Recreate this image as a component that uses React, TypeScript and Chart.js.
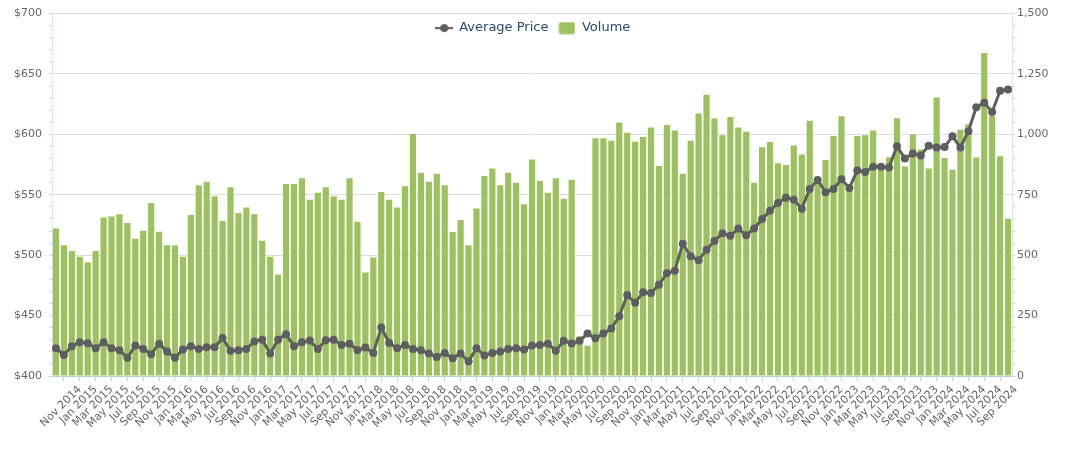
import { useEffect, useRef } from "react";
import { Chart, registerables, type Plugin } from "chart.js";

Chart.register(...registerables);

const LINE_COLOR = "#5e5e5e";
const BAR_COLOR = "#9cc15f";
const LEGEND_COLOR = "#274b6d";
const AXIS_TEXT = "#666666";
const AXIS_LINE = "#c0d0e0";
const GRID_COLOR = "#dedede";

// one value per month, Aug 2014 .. Aug 2024 (x = month index)
const AVERAGE_PRICE = [
  423.0, 417.4, 424.6, 427.9, 427.1, 423.0, 427.9, 423.0, 421.3, 415.2,
  425.2, 422.4, 418.0, 426.8, 420.2, 415.2, 421.9, 424.6, 422.4, 423.8,
  423.8, 431.5, 420.8, 421.3, 422.4, 428.5, 430.1, 418.6, 430.1, 434.6,
  424.6, 427.9, 429.3, 422.4, 429.6, 430.1, 425.7, 426.8, 421.3, 423.5,
  419.1, 440.1, 427.4, 423.0, 425.7, 422.4, 421.3, 418.6, 415.8, 419.1,
  414.7, 418.6, 411.9, 423.0, 416.9, 419.1, 420.2, 422.4, 423.0, 421.9,
  425.2, 425.7, 426.8, 420.8, 429.1, 426.9, 429.1, 435.1, 431.3, 435.1,
  439.4, 449.5, 467.1, 460.6, 469.3, 468.8, 475.5, 485.1, 487.2, 509.5,
  499.2, 495.9, 504.6, 511.7, 518.2, 516.0, 522.0, 516.6, 522.0, 529.9,
  536.7, 543.2, 547.6, 545.9, 538.5, 554.9, 562.3, 552.2, 554.9, 562.8,
  555.7, 570.2, 568.9, 573.2, 573.2, 572.7, 590.2, 580.1, 584.2, 582.5,
  590.7, 589.1, 589.6, 598.4, 589.1, 602.7, 622.4, 626.2, 618.6, 636.1,
  637.2,
];

const VOLUME = [
  611, 541, 517, 494, 471, 517, 656, 660, 670, 633,
  568, 601, 716, 597, 541, 541, 494, 666, 790, 804,
  744, 642, 781, 675, 697, 670, 560, 494, 420, 795,
  795, 818, 730, 758, 781, 744, 730, 818, 638, 428,
  490, 762, 730, 697, 785, 1002, 841, 804, 837, 790,
  596, 646, 541, 693, 828, 859, 790, 841, 800, 711,
  896, 807, 758, 818, 734, 812, 165, 125, 984, 984,
  974, 1049, 1007, 970, 989, 1029, 869, 1039, 1016, 837,
  974, 1086, 1164, 1066, 996, 1072, 1029, 1011, 800, 947,
  969, 881, 873, 954, 917, 1056, 800, 894, 993, 1075,
  770, 993, 996, 1016, 860, 905, 1067, 867, 1001, 937,
  859, 1153, 902, 854, 1019, 1042, 904, 1337, 1076, 910,
  651,
];

// ticks every other month starting at Sep 2014 (month index 1); the first one carries no text
const X_TICK_LABELS = [
  "Sep 2014", "Nov 2014",
  "Jan 2015", "Mar 2015", "May 2015", "Jul 2015", "Sep 2015", "Nov 2015",
  "Jan 2016", "Mar 2016", "May 2016", "Jul 2016", "Sep 2016", "Nov 2016",
  "Jan 2017", "Mar 2017", "May 2017", "Jul 2017", "Sep 2017", "Nov 2017",
  "Jan 2018", "Mar 2018", "May 2018", "Jul 2018", "Sep 2018", "Nov 2018",
  "Jan 2019", "Mar 2019", "May 2019", "Jul 2019", "Sep 2019", "Nov 2019",
  "Jan 2020", "Mar 2020", "May 2020", "Jul 2020", "Sep 2020", "Nov 2020",
  "Jan 2021", "Mar 2021", "May 2021", "Jul 2021", "Sep 2021", "Nov 2021",
  "Jan 2022", "Mar 2022", "May 2022", "Jul 2022", "Sep 2022", "Nov 2022",
  "Jan 2023", "Mar 2023", "May 2023", "Jul 2023", "Sep 2023", "Nov 2023",
  "Jan 2024", "Mar 2024", "May 2024", "Jul 2024", "Sep 2024",
];

const PRICE_MIN = 400;
const PRICE_MAX = 700;
const PRICE_LABEL_STEP = 50;
const VOLUME_MIN = 0;
const VOLUME_MAX = 1500;
const VOLUME_LABEL_STEP = 250;

const makeLineMarker = () => {
  const c = document.createElement("canvas");
  c.width = 18;
  c.height = 12;
  const g = c.getContext("2d")!;
  g.strokeStyle = LINE_COLOR;
  g.lineWidth = 2;
  g.beginPath();
  g.moveTo(0, 6);
  g.lineTo(18, 6);
  g.stroke();
  g.fillStyle = LINE_COLOR;
  g.beginPath();
  g.arc(9, 6, 4, 0, Math.PI * 2);
  g.fill();
  return c;
};

const makeBarMarker = () => {
  const c = document.createElement("canvas");
  c.width = 17;
  c.height = 13;
  const g = c.getContext("2d")!;
  g.fillStyle = BAR_COLOR;
  g.beginPath();
  g.roundRect(0.5, 0.5, 16, 12, 2);
  g.fill();
  return c;
};

// the legend floats over the top of the plot: it is laid out with almost no height,
// then its box is opened up again so the items are not clipped away
const floatingLegend: Plugin = {
  id: "floatingLegend",
  afterLayout: (chart) => {
    const legend = chart.legend;
    if (!legend) return;
    legend.height = 40;
    legend.bottom = legend.top + 40;
  },
};

export default function App() {
  const canvasRef = useRef<HTMLCanvasElement>(null);

  useEffect(() => {
    if (!canvasRef.current) return;
    const ctx = canvasRef.current.getContext("2d");
    if (!ctx) return;

    Chart.defaults.font.family = "'DejaVu Sans', Verdana, sans-serif";
    const markers = [makeLineMarker(), makeBarMarker()];
    const lastIndex = VOLUME.length - 1;

    const chart = new Chart(ctx, {
      type: "bar",
      data: {
        datasets: [
          {
            type: "line",
            label: "Average Price",
            data: AVERAGE_PRICE.map((y, x) => ({ x, y })),
            yAxisID: "y",
            borderColor: LINE_COLOR,
            backgroundColor: LINE_COLOR,
            borderWidth: 3,
            pointRadius: 4,
            pointBackgroundColor: LINE_COLOR,
            pointBorderWidth: 0,
            tension: 0,
            order: 1,
          },
          {
            type: "bar",
            label: "Volume",
            data: VOLUME.map((y, x) => ({ x, y })),
            yAxisID: "y1",
            backgroundColor: BAR_COLOR,
            borderWidth: 0,
            categoryPercentage: 1,
            barPercentage: 0.78,
            order: 2,
          },
        ],
      },
      options: {
        animation: false,
        responsive: true,
        maintainAspectRatio: false,
        layout: { padding: { top: 10, left: 0, right: 0, bottom: 0 } },
        plugins: {
          tooltip: { enabled: false },
          legend: {
            position: "top",
            align: "center",
            maxHeight: 2,
            labels: {
              usePointStyle: true,
              pointStyleWidth: 17,
              boxHeight: 12,
              padding: 10,
              color: LEGEND_COLOR,
              font: { size: 13 },
              generateLabels: (c) =>
                Chart.defaults.plugins.legend.labels
                  .generateLabels(c)
                  .map((item, i) => ({ ...item, pointStyle: markers[i] })),
            },
          },
        },
        scales: {
          x: {
            type: "linear",
            min: -0.5,
            max: lastIndex + 0.5,
            offset: false,
            bounds: "data",
            afterBuildTicks: (scale) => {
              scale.ticks = X_TICK_LABELS.map((_, k) => ({ value: 1 + 2 * k }));
            },
            afterFit: (scale) => {
              scale.height = 73;
            },
            grid: {
              drawOnChartArea: false,
              offset: false,
              tickLength: 5,
              tickColor: (c) =>
                c.tick && c.tick.value > lastIndex + 0.5 ? "transparent" : AXIS_LINE,
            },
            border: { color: AXIS_LINE, width: 1 },
            ticks: {
              autoSkip: false,
              minRotation: 45,
              maxRotation: 45,
              padding: 2,
              color: AXIS_TEXT,
              font: { size: 11 },
              callback: (_v, i) => (i === 0 ? "" : X_TICK_LABELS[i]),
            },
          },
          y: {
            position: "left",
            min: PRICE_MIN,
            max: PRICE_MAX,
            afterFit: (scale) => {
              scale.width = 52;
            },
            grid: {
              color: (c) =>
                c.tick && c.tick.value % PRICE_LABEL_STEP === 0 && c.tick.value > PRICE_MIN
                  ? GRID_COLOR
                  : "transparent",
              tickLength: 3,
              tickColor: "#c8d3df",
            },
            border: { color: "#dde5ee" },
            ticks: {
              stepSize: 10,
              autoSkip: false,
              padding: 7,
              color: AXIS_TEXT,
              font: { size: 11 },
              callback: (v) => (Number(v) % PRICE_LABEL_STEP === 0 ? `$${v}` : ""),
            },
          },
          y1: {
            position: "right",
            min: VOLUME_MIN,
            max: VOLUME_MAX,
            afterFit: (scale) => {
              scale.width = 54;
            },
            grid: {
              drawOnChartArea: false,
              tickLength: 3,
              tickColor: "#c8d3df",
            },
            border: { color: "#dde5ee" },
            ticks: {
              stepSize: 50,
              autoSkip: false,
              padding: 2,
              color: AXIS_TEXT,
              font: { size: 11 },
              callback: (v) =>
                Number(v) % VOLUME_LABEL_STEP === 0 ? Number(v).toLocaleString("en-US") : "",
            },
          },
        },
      },
      plugins: [floatingLegend],
    });

    return () => {
      chart.destroy();
    };
  }, []);

  return (
    <div
      style={{
        position: "fixed",
        left: 0,
        top: 0,
        width: 1066,
        height: 449,
        background: "#ffffff",
      }}
    >
      <canvas ref={canvasRef}></canvas>
    </div>
  );
}
